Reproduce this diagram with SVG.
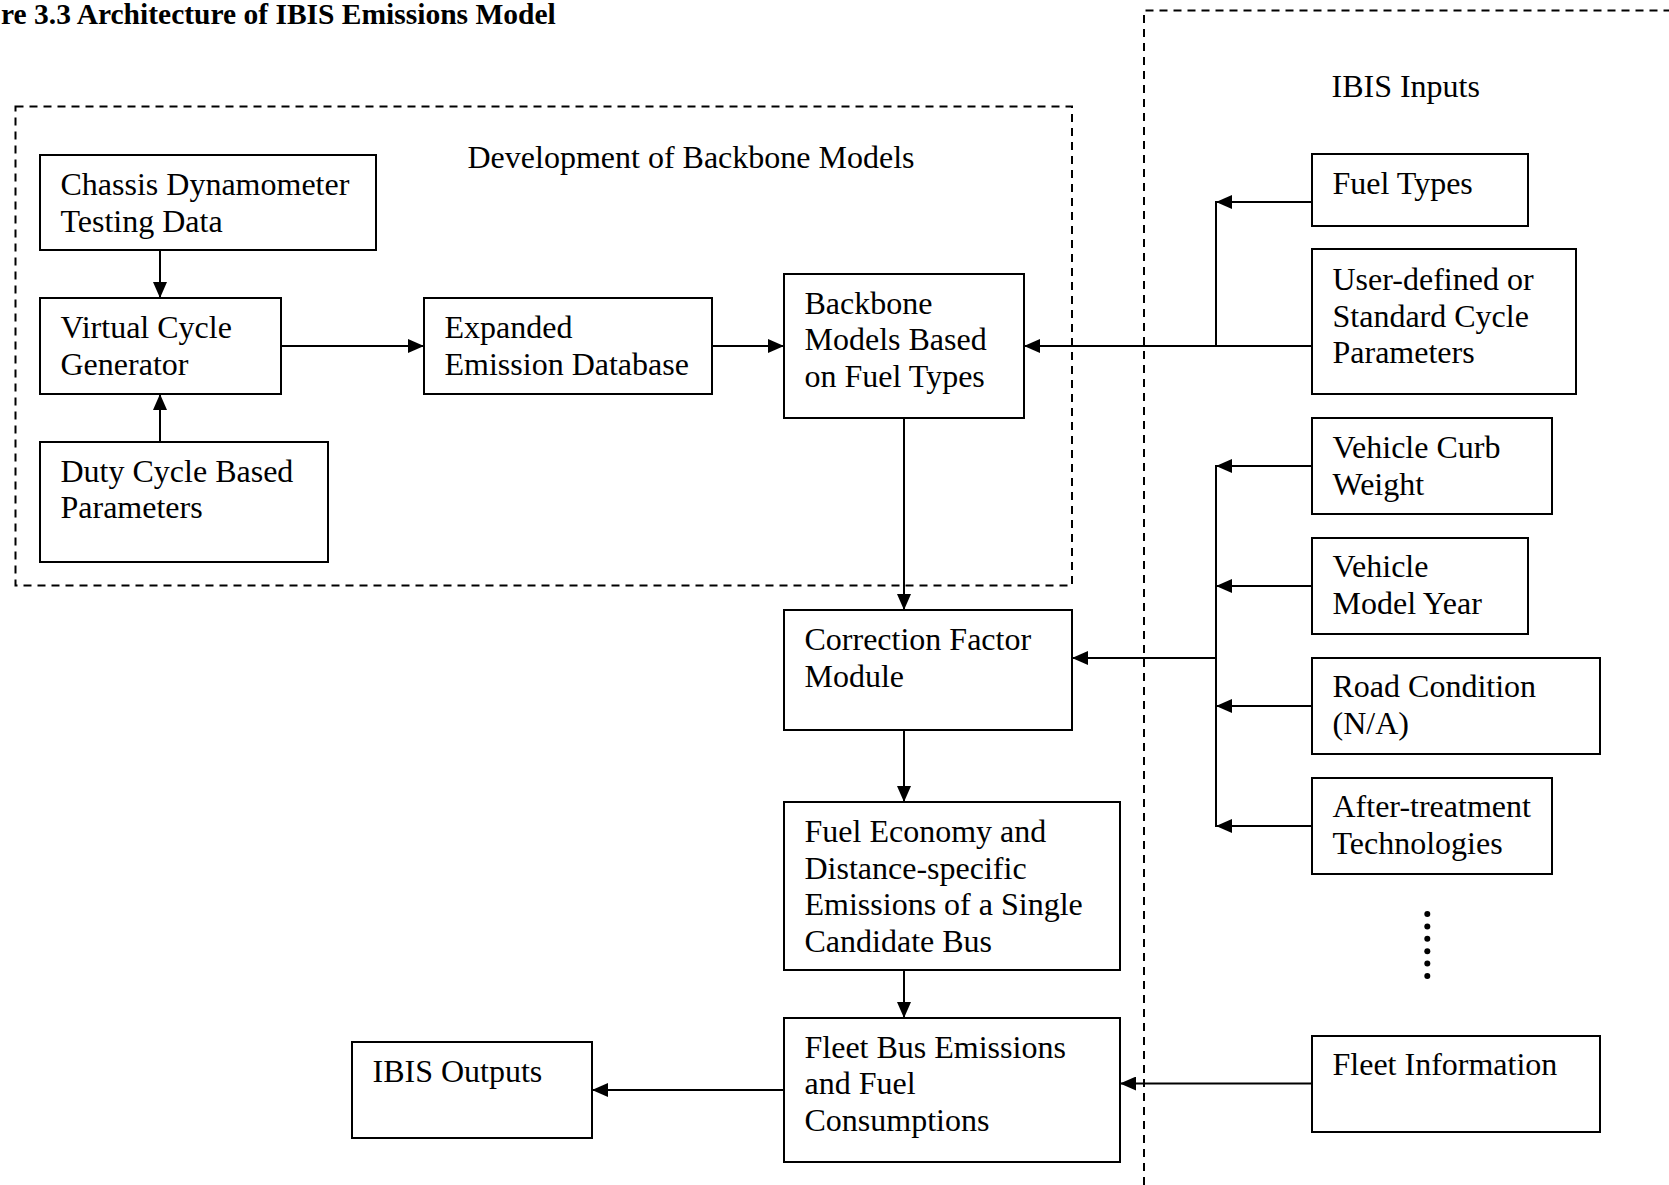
<svg xmlns="http://www.w3.org/2000/svg" width="1669" height="1185" viewBox="0 0 1669 1185">
<style>
text{font-family:"Liberation Serif","Times New Roman",serif;font-size:32px;fill:#000}
.title{font-weight:bold;font-size:29.5px}
.box{fill:#fff;stroke:#000;stroke-width:2}
.dash{fill:none;stroke:#000;stroke-width:2;stroke-dasharray:8 6}
.ln{fill:none;stroke:#000;stroke-width:2}
.arr{fill:none;stroke:#000;stroke-width:2;marker-end:url(#ah)}
</style>
<defs>
<marker id="ah" markerUnits="userSpaceOnUse" markerWidth="16" markerHeight="14" refX="16" refY="7" orient="auto">
<path d="M0,0 L16,7 L0,14 z" fill="#000"/>
</marker>
</defs>
<rect width="1669" height="1185" fill="#fff"/>
<text class="title" x="1" y="24">re 3.3 Architecture of IBIS Emissions Model</text>
<g id="groups">
<rect class="dash" x="15.5" y="106.5" width="1056.5" height="479"/>
<path class="dash" d="M1144,1185 V10.5 H1680"/>
<text x="467.5" y="168">Development of Backbone Models</text>
<text x="1331.5" y="96.5">IBIS Inputs</text>
</g>
<g id="connectors">
<line class="arr" x1="160" y1="250" x2="160" y2="298"/>
<line class="arr" x1="160" y1="442" x2="160" y2="394"/>
<line class="arr" x1="281" y1="346" x2="424" y2="346"/>
<line class="arr" x1="712" y1="346" x2="784" y2="346"/>
<line class="arr" x1="1312" y1="346" x2="1024" y2="346"/>
<line class="arr" x1="1312" y1="202" x2="1216" y2="202"/>
<line class="ln" x1="1216" y1="201" x2="1216" y2="346"/>
<line class="arr" x1="904" y1="418" x2="904" y2="610"/>
<line class="arr" x1="904" y1="730" x2="904" y2="802"/>
<line class="arr" x1="904" y1="970" x2="904" y2="1018"/>
<line class="arr" x1="784" y1="1090" x2="592" y2="1090"/>
<line class="ln" x1="1216" y1="465" x2="1216" y2="827"/>
<line class="arr" x1="1216" y1="658" x2="1072" y2="658"/>
<line class="arr" x1="1312" y1="466" x2="1216" y2="466"/>
<line class="arr" x1="1312" y1="586" x2="1216" y2="586"/>
<line class="arr" x1="1312" y1="706" x2="1216" y2="706"/>
<line class="arr" x1="1312" y1="826" x2="1216" y2="826"/>
<line class="arr" x1="1312" y1="1083.5" x2="1120" y2="1083.5"/>
</g>
<g id="chassis"><rect class="box" x="40" y="155" width="336" height="95"/><text x="60.5" y="195">Chassis Dynamometer</text><text x="60.5" y="231.7">Testing Data</text></g>
<g id="virtual"><rect class="box" x="40" y="298" width="241" height="96"/><text x="60.5" y="338">Virtual Cycle</text><text x="60.5" y="374.7">Generator</text></g>
<g id="duty"><rect class="box" x="40" y="442" width="288" height="120"/><text x="60.5" y="481.5">Duty Cycle Based</text><text x="60.5" y="518.2">Parameters</text></g>
<g id="expanded"><rect class="box" x="424" y="298" width="288" height="96"/><text x="444.5" y="338">Expanded</text><text x="444.5" y="374.7">Emission Database</text></g>
<g id="backbone"><rect class="box" x="784" y="274" width="240" height="144"/><text x="804.5" y="313.5">Backbone</text><text x="804.5" y="350.2">Models Based</text><text x="804.5" y="386.9">on Fuel Types</text></g>
<g id="correction"><rect class="box" x="784" y="610" width="288" height="120"/><text x="804.5" y="650">Correction Factor</text><text x="804.5" y="686.7">Module</text></g>
<g id="fueleconomy"><rect class="box" x="784" y="802" width="336" height="168"/><text x="804.5" y="842">Fuel Economy and</text><text x="804.5" y="878.7">Distance-specific</text><text x="804.5" y="915.4">Emissions of a Single</text><text x="804.5" y="952.1">Candidate Bus</text></g>
<g id="fleetbus"><rect class="box" x="784" y="1018" width="336" height="144"/><text x="804.5" y="1057.5">Fleet Bus Emissions</text><text x="804.5" y="1094.2">and Fuel</text><text x="804.5" y="1130.9">Consumptions</text></g>
<g id="outputs"><rect class="box" x="352" y="1042" width="240" height="96"/><text x="372.5" y="1082">IBIS Outputs</text></g>
<g id="fueltypes"><rect class="box" x="1312" y="154" width="216" height="72"/><text x="1332.5" y="193.5">Fuel Types</text></g>
<g id="userdefined"><rect class="box" x="1312" y="249" width="264" height="145"/><text x="1332.5" y="290">User-defined or</text><text x="1332.5" y="326.7">Standard Cycle</text><text x="1332.5" y="363.4">Parameters</text></g>
<g id="curbweight"><rect class="box" x="1312" y="418" width="240" height="96"/><text x="1332.5" y="458">Vehicle Curb</text><text x="1332.5" y="494.7">Weight</text></g>
<g id="modelyear"><rect class="box" x="1312" y="538" width="216" height="96"/><text x="1332.5" y="577">Vehicle</text><text x="1332.5" y="613.7">Model Year</text></g>
<g id="road"><rect class="box" x="1312" y="658" width="288" height="96"/><text x="1332.5" y="697">Road Condition</text><text x="1332.5" y="733.7">(N/A)</text></g>
<g id="aftertreatment"><rect class="box" x="1312" y="778" width="240" height="96"/><text x="1332.5" y="817">After-treatment</text><text x="1332.5" y="853.7">Technologies</text></g>
<g id="ellipsis" fill="#000"><circle cx="1427.3" cy="914" r="3"/><circle cx="1427.3" cy="926.4" r="3"/><circle cx="1427.3" cy="938.8" r="3"/><circle cx="1427.3" cy="951.2" r="3"/><circle cx="1427.3" cy="963.6" r="3"/><circle cx="1427.3" cy="976" r="3"/></g>
<g id="fleetinfo"><rect class="box" x="1312" y="1036" width="288" height="96"/><text x="1332.5" y="1075">Fleet Information</text></g>
</svg>
